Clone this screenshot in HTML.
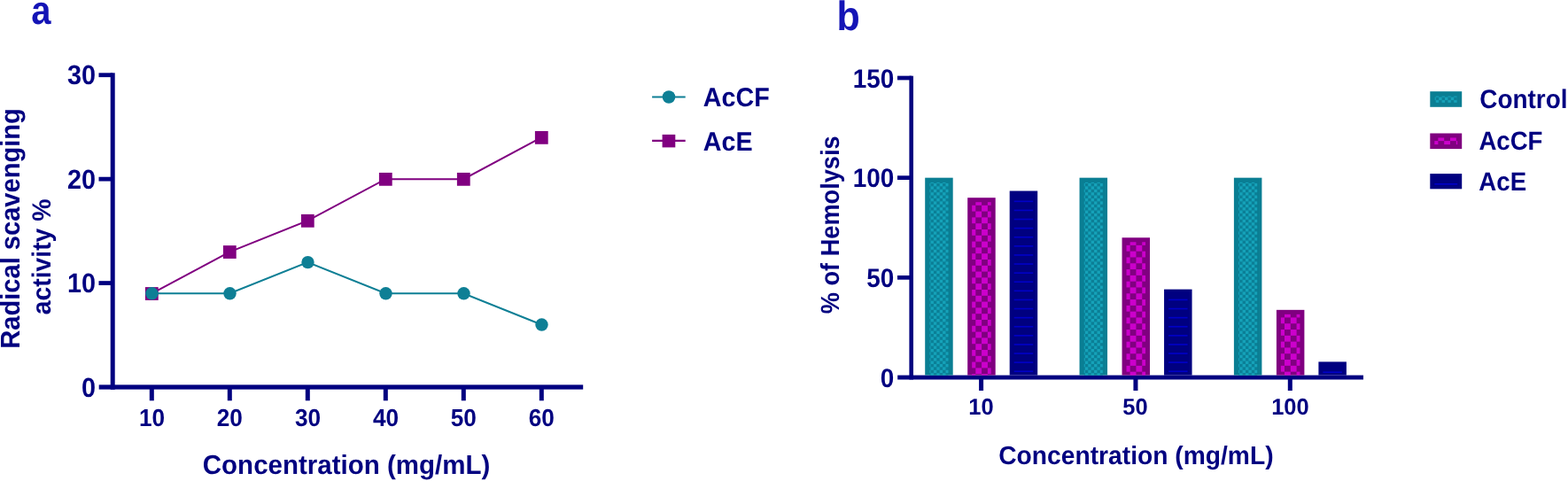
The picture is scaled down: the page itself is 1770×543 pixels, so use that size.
<!DOCTYPE html>
<html><head><meta charset="utf-8"><title>Figure</title>
<style>
html,body{margin:0;padding:0;background:#fff;}
body{width:1770px;height:543px;overflow:hidden;}
svg{display:block;}
svg text{font-family:'Liberation Sans',Arial,sans-serif;font-weight:bold;font-kerning:none;text-rendering:geometricPrecision;}
</style></head>
<body>
<svg width="1770" height="543" viewBox="0 0 1770 543">
<rect width="1770" height="543" fill="#fff"/>
<text transform="translate(35.2,26.9) scale(0.897,1.01)" font-size="44.5" fill="#1414b6">a</text>
<rect x="124.70" y="82.30" width="5.00" height="357.50" fill="#000080"/>
<rect x="111.70" y="434.40" width="546.50" height="5.20" fill="#000080"/>
<rect x="111.50" y="317.17" width="15.50" height="4.80" fill="#000080"/>
<rect x="111.50" y="199.74" width="15.50" height="4.80" fill="#000080"/>
<rect x="111.50" y="82.31" width="15.50" height="4.80" fill="#000080"/>
<rect x="168.80" y="437.00" width="5.00" height="15.30" fill="#000080"/>
<rect x="256.80" y="437.00" width="5.00" height="15.30" fill="#000080"/>
<rect x="344.80" y="437.00" width="5.00" height="15.30" fill="#000080"/>
<rect x="432.80" y="437.00" width="5.00" height="15.30" fill="#000080"/>
<rect x="520.80" y="437.00" width="5.00" height="15.30" fill="#000080"/>
<rect x="608.80" y="437.00" width="5.00" height="15.30" fill="#000080"/>
<text transform="translate(75.95,95.41) scale(1.0,1.07)" font-size="28.8" fill="#000080">30</text>
<text transform="translate(75.95,212.84) scale(1.0,1.07)" font-size="28.8" fill="#000080">20</text>
<text transform="translate(75.95,330.27) scale(1.0,1.07)" font-size="28.8" fill="#000080">10</text>
<text transform="translate(91.96,447.70) scale(1.0,1.07)" font-size="28.8" fill="#000080">0</text>
<text transform="translate(156.97,481.00) scale(1.0,1.05)" font-size="26.2" fill="#000080">10</text>
<text transform="translate(244.74,481.00) scale(1.0,1.05)" font-size="26.2" fill="#000080">20</text>
<text transform="translate(332.89,481.00) scale(1.0,1.05)" font-size="26.2" fill="#000080">30</text>
<text transform="translate(421.00,481.00) scale(1.0,1.05)" font-size="26.2" fill="#000080">40</text>
<text transform="translate(508.79,481.00) scale(1.0,1.05)" font-size="26.2" fill="#000080">50</text>
<text transform="translate(596.72,481.00) scale(1.0,1.05)" font-size="26.2" fill="#000080">60</text>
<text transform="translate(228.8,534.9) scale(1,1.03)" font-size="29.5" fill="#000080">Concentration (mg/mL)</text>
<text transform="translate(22.00,393.75) rotate(-90) scale(1,1.05)" font-size="29.1" fill="#000080">Radical scavenging</text>
<text transform="translate(57.20,355.13) rotate(-90) scale(1,1.05)" font-size="28.28" fill="#000080">activity %</text>
<polyline points="171.30,331.31 259.30,284.34 347.30,249.11 435.30,202.14 523.30,202.14 611.30,155.17" fill="none" stroke="#800080" stroke-width="2.0"/>
<rect x="163.90" y="324.11" width="14.80" height="14.80" fill="#800080"/>
<rect x="251.90" y="277.14" width="14.80" height="14.80" fill="#800080"/>
<rect x="339.90" y="241.91" width="14.80" height="14.80" fill="#800080"/>
<rect x="427.90" y="194.94" width="14.80" height="14.80" fill="#800080"/>
<rect x="515.90" y="194.94" width="14.80" height="14.80" fill="#800080"/>
<rect x="603.90" y="147.97" width="14.80" height="14.80" fill="#800080"/>
<polyline points="171.30,331.31 259.30,331.31 347.30,296.08 435.30,331.31 523.30,331.31 611.30,366.54" fill="none" stroke="#0e7f95" stroke-width="2.1"/>
<circle cx="171.50" cy="331.31" r="7.2" fill="#0e7f95"/>
<circle cx="259.50" cy="331.31" r="7.2" fill="#0e7f95"/>
<circle cx="347.50" cy="296.08" r="7.2" fill="#0e7f95"/>
<circle cx="435.50" cy="331.31" r="7.2" fill="#0e7f95"/>
<circle cx="523.50" cy="331.31" r="7.2" fill="#0e7f95"/>
<circle cx="611.50" cy="366.54" r="7.2" fill="#0e7f95"/>
<line x1="736.1" y1="109.5" x2="773.7" y2="109.5" stroke="#0e7f95" stroke-width="2.2"/>
<circle cx="755" cy="109.5" r="7.3" fill="#0e7f95"/>
<line x1="736.1" y1="158.8" x2="773.7" y2="158.8" stroke="#800080" stroke-width="2.2"/>
<rect x="747.60" y="151.90" width="14.70" height="14.50" fill="#800080"/>
<text transform="translate(793.85,119.90) scale(1.0,1.05)" font-size="28.7" fill="#000080">AcCF</text>
<text transform="translate(793.85,169.80) scale(1.0,1.05)" font-size="28.7" fill="#000080">AcE</text>
<text transform="translate(944.4,34.3) scale(0.96,1.04)" font-size="44.7" fill="#1414b6">b</text>
<rect x="1026.40" y="85.70" width="4.60" height="342.80" fill="#000080"/>
<rect x="1013.20" y="423.60" width="525.80" height="4.90" fill="#000080"/>
<rect x="1013.00" y="310.98" width="16.00" height="4.70" fill="#000080"/>
<rect x="1013.00" y="198.32" width="16.00" height="4.70" fill="#000080"/>
<rect x="1013.00" y="85.65" width="16.00" height="4.70" fill="#000080"/>
<rect x="1105.10" y="426.00" width="5.00" height="15.00" fill="#000080"/>
<rect x="1279.45" y="426.00" width="5.00" height="15.00" fill="#000080"/>
<rect x="1453.80" y="426.00" width="5.00" height="15.00" fill="#000080"/>
<text transform="translate(962.69,98.60) scale(1.0,1.07)" font-size="27.9" fill="#000080">150</text>
<text transform="translate(962.69,211.27) scale(1.0,1.07)" font-size="27.9" fill="#000080">100</text>
<text transform="translate(993.73,436.60) scale(1.0,1.07)" font-size="27.9" fill="#000080">0</text>
<text transform="translate(978.21,323.94) scale(1.0,1.07)" font-size="27.9" fill="#000080">50</text>
<text transform="translate(1093.36,468.10) scale(1.0,1.02)" font-size="25.5" fill="#000080">10</text>
<text transform="translate(1267.30,468.10) scale(1.0,1.02)" font-size="25.5" fill="#000080">50</text>
<text transform="translate(1435.15,468.10) scale(1.0,1.02)" font-size="25.5" fill="#000080">100</text>
<text transform="translate(1127.2,523.7) scale(1,1.03)" font-size="28.22" fill="#000080">Concentration (mg/mL)</text>
<text transform="translate(946.60,354.28) rotate(-90) scale(1,1.076)" font-size="27.2" fill="#000080">% of Hemolysis</text>
<rect x="1044.20" y="200.67" width="31.50" height="222.93" fill="#0a7e93"/>
<rect x="1049.40" y="205.87" width="21.10" height="217.73" fill="#0b7f96"/>
<rect x="1050.50" y="205.87" width="3.40" height="1.10" fill="#15a2b9"/>
<rect x="1057.30" y="205.87" width="3.40" height="1.10" fill="#15a2b9"/>
<rect x="1064.10" y="205.87" width="3.40" height="1.10" fill="#15a2b9"/>
<rect x="1049.40" y="206.97" width="1.10" height="3.40" fill="#15a2b9"/>
<rect x="1053.90" y="206.97" width="3.40" height="3.40" fill="#15a2b9"/>
<rect x="1060.70" y="206.97" width="3.40" height="3.40" fill="#15a2b9"/>
<rect x="1067.50" y="206.97" width="3.00" height="3.40" fill="#15a2b9"/>
<rect x="1050.50" y="210.37" width="3.40" height="3.40" fill="#15a2b9"/>
<rect x="1057.30" y="210.37" width="3.40" height="3.40" fill="#15a2b9"/>
<rect x="1064.10" y="210.37" width="3.40" height="3.40" fill="#15a2b9"/>
<rect x="1049.40" y="213.77" width="1.10" height="3.40" fill="#15a2b9"/>
<rect x="1053.90" y="213.77" width="3.40" height="3.40" fill="#15a2b9"/>
<rect x="1060.70" y="213.77" width="3.40" height="3.40" fill="#15a2b9"/>
<rect x="1067.50" y="213.77" width="3.00" height="3.40" fill="#15a2b9"/>
<rect x="1050.50" y="217.17" width="3.40" height="3.40" fill="#15a2b9"/>
<rect x="1057.30" y="217.17" width="3.40" height="3.40" fill="#15a2b9"/>
<rect x="1064.10" y="217.17" width="3.40" height="3.40" fill="#15a2b9"/>
<rect x="1049.40" y="220.57" width="1.10" height="3.40" fill="#15a2b9"/>
<rect x="1053.90" y="220.57" width="3.40" height="3.40" fill="#15a2b9"/>
<rect x="1060.70" y="220.57" width="3.40" height="3.40" fill="#15a2b9"/>
<rect x="1067.50" y="220.57" width="3.00" height="3.40" fill="#15a2b9"/>
<rect x="1050.50" y="223.97" width="3.40" height="3.40" fill="#15a2b9"/>
<rect x="1057.30" y="223.97" width="3.40" height="3.40" fill="#15a2b9"/>
<rect x="1064.10" y="223.97" width="3.40" height="3.40" fill="#15a2b9"/>
<rect x="1049.40" y="227.37" width="1.10" height="3.40" fill="#15a2b9"/>
<rect x="1053.90" y="227.37" width="3.40" height="3.40" fill="#15a2b9"/>
<rect x="1060.70" y="227.37" width="3.40" height="3.40" fill="#15a2b9"/>
<rect x="1067.50" y="227.37" width="3.00" height="3.40" fill="#15a2b9"/>
<rect x="1050.50" y="230.77" width="3.40" height="3.40" fill="#15a2b9"/>
<rect x="1057.30" y="230.77" width="3.40" height="3.40" fill="#15a2b9"/>
<rect x="1064.10" y="230.77" width="3.40" height="3.40" fill="#15a2b9"/>
<rect x="1049.40" y="234.17" width="1.10" height="3.40" fill="#15a2b9"/>
<rect x="1053.90" y="234.17" width="3.40" height="3.40" fill="#15a2b9"/>
<rect x="1060.70" y="234.17" width="3.40" height="3.40" fill="#15a2b9"/>
<rect x="1067.50" y="234.17" width="3.00" height="3.40" fill="#15a2b9"/>
<rect x="1050.50" y="237.57" width="3.40" height="3.40" fill="#15a2b9"/>
<rect x="1057.30" y="237.57" width="3.40" height="3.40" fill="#15a2b9"/>
<rect x="1064.10" y="237.57" width="3.40" height="3.40" fill="#15a2b9"/>
<rect x="1049.40" y="240.97" width="1.10" height="3.40" fill="#15a2b9"/>
<rect x="1053.90" y="240.97" width="3.40" height="3.40" fill="#15a2b9"/>
<rect x="1060.70" y="240.97" width="3.40" height="3.40" fill="#15a2b9"/>
<rect x="1067.50" y="240.97" width="3.00" height="3.40" fill="#15a2b9"/>
<rect x="1050.50" y="244.37" width="3.40" height="3.40" fill="#15a2b9"/>
<rect x="1057.30" y="244.37" width="3.40" height="3.40" fill="#15a2b9"/>
<rect x="1064.10" y="244.37" width="3.40" height="3.40" fill="#15a2b9"/>
<rect x="1049.40" y="247.77" width="1.10" height="3.40" fill="#15a2b9"/>
<rect x="1053.90" y="247.77" width="3.40" height="3.40" fill="#15a2b9"/>
<rect x="1060.70" y="247.77" width="3.40" height="3.40" fill="#15a2b9"/>
<rect x="1067.50" y="247.77" width="3.00" height="3.40" fill="#15a2b9"/>
<rect x="1050.50" y="251.17" width="3.40" height="3.40" fill="#15a2b9"/>
<rect x="1057.30" y="251.17" width="3.40" height="3.40" fill="#15a2b9"/>
<rect x="1064.10" y="251.17" width="3.40" height="3.40" fill="#15a2b9"/>
<rect x="1049.40" y="254.57" width="1.10" height="3.40" fill="#15a2b9"/>
<rect x="1053.90" y="254.57" width="3.40" height="3.40" fill="#15a2b9"/>
<rect x="1060.70" y="254.57" width="3.40" height="3.40" fill="#15a2b9"/>
<rect x="1067.50" y="254.57" width="3.00" height="3.40" fill="#15a2b9"/>
<rect x="1050.50" y="257.97" width="3.40" height="3.40" fill="#15a2b9"/>
<rect x="1057.30" y="257.97" width="3.40" height="3.40" fill="#15a2b9"/>
<rect x="1064.10" y="257.97" width="3.40" height="3.40" fill="#15a2b9"/>
<rect x="1049.40" y="261.37" width="1.10" height="3.40" fill="#15a2b9"/>
<rect x="1053.90" y="261.37" width="3.40" height="3.40" fill="#15a2b9"/>
<rect x="1060.70" y="261.37" width="3.40" height="3.40" fill="#15a2b9"/>
<rect x="1067.50" y="261.37" width="3.00" height="3.40" fill="#15a2b9"/>
<rect x="1050.50" y="264.77" width="3.40" height="3.40" fill="#15a2b9"/>
<rect x="1057.30" y="264.77" width="3.40" height="3.40" fill="#15a2b9"/>
<rect x="1064.10" y="264.77" width="3.40" height="3.40" fill="#15a2b9"/>
<rect x="1049.40" y="268.17" width="1.10" height="3.40" fill="#15a2b9"/>
<rect x="1053.90" y="268.17" width="3.40" height="3.40" fill="#15a2b9"/>
<rect x="1060.70" y="268.17" width="3.40" height="3.40" fill="#15a2b9"/>
<rect x="1067.50" y="268.17" width="3.00" height="3.40" fill="#15a2b9"/>
<rect x="1050.50" y="271.57" width="3.40" height="3.40" fill="#15a2b9"/>
<rect x="1057.30" y="271.57" width="3.40" height="3.40" fill="#15a2b9"/>
<rect x="1064.10" y="271.57" width="3.40" height="3.40" fill="#15a2b9"/>
<rect x="1049.40" y="274.97" width="1.10" height="3.40" fill="#15a2b9"/>
<rect x="1053.90" y="274.97" width="3.40" height="3.40" fill="#15a2b9"/>
<rect x="1060.70" y="274.97" width="3.40" height="3.40" fill="#15a2b9"/>
<rect x="1067.50" y="274.97" width="3.00" height="3.40" fill="#15a2b9"/>
<rect x="1050.50" y="278.37" width="3.40" height="3.40" fill="#15a2b9"/>
<rect x="1057.30" y="278.37" width="3.40" height="3.40" fill="#15a2b9"/>
<rect x="1064.10" y="278.37" width="3.40" height="3.40" fill="#15a2b9"/>
<rect x="1049.40" y="281.77" width="1.10" height="3.40" fill="#15a2b9"/>
<rect x="1053.90" y="281.77" width="3.40" height="3.40" fill="#15a2b9"/>
<rect x="1060.70" y="281.77" width="3.40" height="3.40" fill="#15a2b9"/>
<rect x="1067.50" y="281.77" width="3.00" height="3.40" fill="#15a2b9"/>
<rect x="1050.50" y="285.17" width="3.40" height="3.40" fill="#15a2b9"/>
<rect x="1057.30" y="285.17" width="3.40" height="3.40" fill="#15a2b9"/>
<rect x="1064.10" y="285.17" width="3.40" height="3.40" fill="#15a2b9"/>
<rect x="1049.40" y="288.57" width="1.10" height="3.40" fill="#15a2b9"/>
<rect x="1053.90" y="288.57" width="3.40" height="3.40" fill="#15a2b9"/>
<rect x="1060.70" y="288.57" width="3.40" height="3.40" fill="#15a2b9"/>
<rect x="1067.50" y="288.57" width="3.00" height="3.40" fill="#15a2b9"/>
<rect x="1050.50" y="291.97" width="3.40" height="3.40" fill="#15a2b9"/>
<rect x="1057.30" y="291.97" width="3.40" height="3.40" fill="#15a2b9"/>
<rect x="1064.10" y="291.97" width="3.40" height="3.40" fill="#15a2b9"/>
<rect x="1049.40" y="295.37" width="1.10" height="3.40" fill="#15a2b9"/>
<rect x="1053.90" y="295.37" width="3.40" height="3.40" fill="#15a2b9"/>
<rect x="1060.70" y="295.37" width="3.40" height="3.40" fill="#15a2b9"/>
<rect x="1067.50" y="295.37" width="3.00" height="3.40" fill="#15a2b9"/>
<rect x="1050.50" y="298.77" width="3.40" height="3.40" fill="#15a2b9"/>
<rect x="1057.30" y="298.77" width="3.40" height="3.40" fill="#15a2b9"/>
<rect x="1064.10" y="298.77" width="3.40" height="3.40" fill="#15a2b9"/>
<rect x="1049.40" y="302.17" width="1.10" height="3.40" fill="#15a2b9"/>
<rect x="1053.90" y="302.17" width="3.40" height="3.40" fill="#15a2b9"/>
<rect x="1060.70" y="302.17" width="3.40" height="3.40" fill="#15a2b9"/>
<rect x="1067.50" y="302.17" width="3.00" height="3.40" fill="#15a2b9"/>
<rect x="1050.50" y="305.57" width="3.40" height="3.40" fill="#15a2b9"/>
<rect x="1057.30" y="305.57" width="3.40" height="3.40" fill="#15a2b9"/>
<rect x="1064.10" y="305.57" width="3.40" height="3.40" fill="#15a2b9"/>
<rect x="1049.40" y="308.97" width="1.10" height="3.40" fill="#15a2b9"/>
<rect x="1053.90" y="308.97" width="3.40" height="3.40" fill="#15a2b9"/>
<rect x="1060.70" y="308.97" width="3.40" height="3.40" fill="#15a2b9"/>
<rect x="1067.50" y="308.97" width="3.00" height="3.40" fill="#15a2b9"/>
<rect x="1050.50" y="312.37" width="3.40" height="3.40" fill="#15a2b9"/>
<rect x="1057.30" y="312.37" width="3.40" height="3.40" fill="#15a2b9"/>
<rect x="1064.10" y="312.37" width="3.40" height="3.40" fill="#15a2b9"/>
<rect x="1049.40" y="315.77" width="1.10" height="3.40" fill="#15a2b9"/>
<rect x="1053.90" y="315.77" width="3.40" height="3.40" fill="#15a2b9"/>
<rect x="1060.70" y="315.77" width="3.40" height="3.40" fill="#15a2b9"/>
<rect x="1067.50" y="315.77" width="3.00" height="3.40" fill="#15a2b9"/>
<rect x="1050.50" y="319.17" width="3.40" height="3.40" fill="#15a2b9"/>
<rect x="1057.30" y="319.17" width="3.40" height="3.40" fill="#15a2b9"/>
<rect x="1064.10" y="319.17" width="3.40" height="3.40" fill="#15a2b9"/>
<rect x="1049.40" y="322.57" width="1.10" height="3.40" fill="#15a2b9"/>
<rect x="1053.90" y="322.57" width="3.40" height="3.40" fill="#15a2b9"/>
<rect x="1060.70" y="322.57" width="3.40" height="3.40" fill="#15a2b9"/>
<rect x="1067.50" y="322.57" width="3.00" height="3.40" fill="#15a2b9"/>
<rect x="1050.50" y="325.97" width="3.40" height="3.40" fill="#15a2b9"/>
<rect x="1057.30" y="325.97" width="3.40" height="3.40" fill="#15a2b9"/>
<rect x="1064.10" y="325.97" width="3.40" height="3.40" fill="#15a2b9"/>
<rect x="1049.40" y="329.37" width="1.10" height="3.40" fill="#15a2b9"/>
<rect x="1053.90" y="329.37" width="3.40" height="3.40" fill="#15a2b9"/>
<rect x="1060.70" y="329.37" width="3.40" height="3.40" fill="#15a2b9"/>
<rect x="1067.50" y="329.37" width="3.00" height="3.40" fill="#15a2b9"/>
<rect x="1050.50" y="332.77" width="3.40" height="3.40" fill="#15a2b9"/>
<rect x="1057.30" y="332.77" width="3.40" height="3.40" fill="#15a2b9"/>
<rect x="1064.10" y="332.77" width="3.40" height="3.40" fill="#15a2b9"/>
<rect x="1049.40" y="336.17" width="1.10" height="3.40" fill="#15a2b9"/>
<rect x="1053.90" y="336.17" width="3.40" height="3.40" fill="#15a2b9"/>
<rect x="1060.70" y="336.17" width="3.40" height="3.40" fill="#15a2b9"/>
<rect x="1067.50" y="336.17" width="3.00" height="3.40" fill="#15a2b9"/>
<rect x="1050.50" y="339.57" width="3.40" height="3.40" fill="#15a2b9"/>
<rect x="1057.30" y="339.57" width="3.40" height="3.40" fill="#15a2b9"/>
<rect x="1064.10" y="339.57" width="3.40" height="3.40" fill="#15a2b9"/>
<rect x="1049.40" y="342.97" width="1.10" height="3.40" fill="#15a2b9"/>
<rect x="1053.90" y="342.97" width="3.40" height="3.40" fill="#15a2b9"/>
<rect x="1060.70" y="342.97" width="3.40" height="3.40" fill="#15a2b9"/>
<rect x="1067.50" y="342.97" width="3.00" height="3.40" fill="#15a2b9"/>
<rect x="1050.50" y="346.37" width="3.40" height="3.40" fill="#15a2b9"/>
<rect x="1057.30" y="346.37" width="3.40" height="3.40" fill="#15a2b9"/>
<rect x="1064.10" y="346.37" width="3.40" height="3.40" fill="#15a2b9"/>
<rect x="1049.40" y="349.77" width="1.10" height="3.40" fill="#15a2b9"/>
<rect x="1053.90" y="349.77" width="3.40" height="3.40" fill="#15a2b9"/>
<rect x="1060.70" y="349.77" width="3.40" height="3.40" fill="#15a2b9"/>
<rect x="1067.50" y="349.77" width="3.00" height="3.40" fill="#15a2b9"/>
<rect x="1050.50" y="353.17" width="3.40" height="3.40" fill="#15a2b9"/>
<rect x="1057.30" y="353.17" width="3.40" height="3.40" fill="#15a2b9"/>
<rect x="1064.10" y="353.17" width="3.40" height="3.40" fill="#15a2b9"/>
<rect x="1049.40" y="356.57" width="1.10" height="3.40" fill="#15a2b9"/>
<rect x="1053.90" y="356.57" width="3.40" height="3.40" fill="#15a2b9"/>
<rect x="1060.70" y="356.57" width="3.40" height="3.40" fill="#15a2b9"/>
<rect x="1067.50" y="356.57" width="3.00" height="3.40" fill="#15a2b9"/>
<rect x="1050.50" y="359.97" width="3.40" height="3.40" fill="#15a2b9"/>
<rect x="1057.30" y="359.97" width="3.40" height="3.40" fill="#15a2b9"/>
<rect x="1064.10" y="359.97" width="3.40" height="3.40" fill="#15a2b9"/>
<rect x="1049.40" y="363.37" width="1.10" height="3.40" fill="#15a2b9"/>
<rect x="1053.90" y="363.37" width="3.40" height="3.40" fill="#15a2b9"/>
<rect x="1060.70" y="363.37" width="3.40" height="3.40" fill="#15a2b9"/>
<rect x="1067.50" y="363.37" width="3.00" height="3.40" fill="#15a2b9"/>
<rect x="1050.50" y="366.77" width="3.40" height="3.40" fill="#15a2b9"/>
<rect x="1057.30" y="366.77" width="3.40" height="3.40" fill="#15a2b9"/>
<rect x="1064.10" y="366.77" width="3.40" height="3.40" fill="#15a2b9"/>
<rect x="1049.40" y="370.17" width="1.10" height="3.40" fill="#15a2b9"/>
<rect x="1053.90" y="370.17" width="3.40" height="3.40" fill="#15a2b9"/>
<rect x="1060.70" y="370.17" width="3.40" height="3.40" fill="#15a2b9"/>
<rect x="1067.50" y="370.17" width="3.00" height="3.40" fill="#15a2b9"/>
<rect x="1050.50" y="373.57" width="3.40" height="3.40" fill="#15a2b9"/>
<rect x="1057.30" y="373.57" width="3.40" height="3.40" fill="#15a2b9"/>
<rect x="1064.10" y="373.57" width="3.40" height="3.40" fill="#15a2b9"/>
<rect x="1049.40" y="376.97" width="1.10" height="3.40" fill="#15a2b9"/>
<rect x="1053.90" y="376.97" width="3.40" height="3.40" fill="#15a2b9"/>
<rect x="1060.70" y="376.97" width="3.40" height="3.40" fill="#15a2b9"/>
<rect x="1067.50" y="376.97" width="3.00" height="3.40" fill="#15a2b9"/>
<rect x="1050.50" y="380.37" width="3.40" height="3.40" fill="#15a2b9"/>
<rect x="1057.30" y="380.37" width="3.40" height="3.40" fill="#15a2b9"/>
<rect x="1064.10" y="380.37" width="3.40" height="3.40" fill="#15a2b9"/>
<rect x="1049.40" y="383.77" width="1.10" height="3.40" fill="#15a2b9"/>
<rect x="1053.90" y="383.77" width="3.40" height="3.40" fill="#15a2b9"/>
<rect x="1060.70" y="383.77" width="3.40" height="3.40" fill="#15a2b9"/>
<rect x="1067.50" y="383.77" width="3.00" height="3.40" fill="#15a2b9"/>
<rect x="1050.50" y="387.17" width="3.40" height="3.40" fill="#15a2b9"/>
<rect x="1057.30" y="387.17" width="3.40" height="3.40" fill="#15a2b9"/>
<rect x="1064.10" y="387.17" width="3.40" height="3.40" fill="#15a2b9"/>
<rect x="1049.40" y="390.57" width="1.10" height="3.40" fill="#15a2b9"/>
<rect x="1053.90" y="390.57" width="3.40" height="3.40" fill="#15a2b9"/>
<rect x="1060.70" y="390.57" width="3.40" height="3.40" fill="#15a2b9"/>
<rect x="1067.50" y="390.57" width="3.00" height="3.40" fill="#15a2b9"/>
<rect x="1050.50" y="393.97" width="3.40" height="3.40" fill="#15a2b9"/>
<rect x="1057.30" y="393.97" width="3.40" height="3.40" fill="#15a2b9"/>
<rect x="1064.10" y="393.97" width="3.40" height="3.40" fill="#15a2b9"/>
<rect x="1049.40" y="397.37" width="1.10" height="3.40" fill="#15a2b9"/>
<rect x="1053.90" y="397.37" width="3.40" height="3.40" fill="#15a2b9"/>
<rect x="1060.70" y="397.37" width="3.40" height="3.40" fill="#15a2b9"/>
<rect x="1067.50" y="397.37" width="3.00" height="3.40" fill="#15a2b9"/>
<rect x="1050.50" y="400.77" width="3.40" height="3.40" fill="#15a2b9"/>
<rect x="1057.30" y="400.77" width="3.40" height="3.40" fill="#15a2b9"/>
<rect x="1064.10" y="400.77" width="3.40" height="3.40" fill="#15a2b9"/>
<rect x="1049.40" y="404.17" width="1.10" height="3.40" fill="#15a2b9"/>
<rect x="1053.90" y="404.17" width="3.40" height="3.40" fill="#15a2b9"/>
<rect x="1060.70" y="404.17" width="3.40" height="3.40" fill="#15a2b9"/>
<rect x="1067.50" y="404.17" width="3.00" height="3.40" fill="#15a2b9"/>
<rect x="1050.50" y="407.57" width="3.40" height="3.40" fill="#15a2b9"/>
<rect x="1057.30" y="407.57" width="3.40" height="3.40" fill="#15a2b9"/>
<rect x="1064.10" y="407.57" width="3.40" height="3.40" fill="#15a2b9"/>
<rect x="1049.40" y="410.97" width="1.10" height="3.40" fill="#15a2b9"/>
<rect x="1053.90" y="410.97" width="3.40" height="3.40" fill="#15a2b9"/>
<rect x="1060.70" y="410.97" width="3.40" height="3.40" fill="#15a2b9"/>
<rect x="1067.50" y="410.97" width="3.00" height="3.40" fill="#15a2b9"/>
<rect x="1050.50" y="414.37" width="3.40" height="3.40" fill="#15a2b9"/>
<rect x="1057.30" y="414.37" width="3.40" height="3.40" fill="#15a2b9"/>
<rect x="1064.10" y="414.37" width="3.40" height="3.40" fill="#15a2b9"/>
<rect x="1049.40" y="417.77" width="1.10" height="3.40" fill="#15a2b9"/>
<rect x="1053.90" y="417.77" width="3.40" height="3.40" fill="#15a2b9"/>
<rect x="1060.70" y="417.77" width="3.40" height="3.40" fill="#15a2b9"/>
<rect x="1067.50" y="417.77" width="3.00" height="3.40" fill="#15a2b9"/>
<rect x="1050.50" y="421.17" width="3.40" height="2.43" fill="#15a2b9"/>
<rect x="1057.30" y="421.17" width="3.40" height="2.43" fill="#15a2b9"/>
<rect x="1064.10" y="421.17" width="3.40" height="2.43" fill="#15a2b9"/>
<rect x="1092.20" y="223.20" width="31.50" height="200.40" fill="#800080"/>
<rect x="1101.30" y="228.20" width="6.80" height="3.60" fill="#cc00cc"/>
<rect x="1114.90" y="228.20" width="3.80" height="3.60" fill="#cc00cc"/>
<rect x="1097.20" y="231.80" width="4.10" height="6.80" fill="#cc00cc"/>
<rect x="1108.10" y="231.80" width="6.80" height="6.80" fill="#cc00cc"/>
<rect x="1101.30" y="238.60" width="6.80" height="6.80" fill="#cc00cc"/>
<rect x="1114.90" y="238.60" width="3.80" height="6.80" fill="#cc00cc"/>
<rect x="1097.20" y="245.40" width="4.10" height="6.80" fill="#cc00cc"/>
<rect x="1108.10" y="245.40" width="6.80" height="6.80" fill="#cc00cc"/>
<rect x="1101.30" y="252.20" width="6.80" height="6.80" fill="#cc00cc"/>
<rect x="1114.90" y="252.20" width="3.80" height="6.80" fill="#cc00cc"/>
<rect x="1097.20" y="259.00" width="4.10" height="6.80" fill="#cc00cc"/>
<rect x="1108.10" y="259.00" width="6.80" height="6.80" fill="#cc00cc"/>
<rect x="1101.30" y="265.80" width="6.80" height="6.80" fill="#cc00cc"/>
<rect x="1114.90" y="265.80" width="3.80" height="6.80" fill="#cc00cc"/>
<rect x="1097.20" y="272.60" width="4.10" height="6.80" fill="#cc00cc"/>
<rect x="1108.10" y="272.60" width="6.80" height="6.80" fill="#cc00cc"/>
<rect x="1101.30" y="279.40" width="6.80" height="6.80" fill="#cc00cc"/>
<rect x="1114.90" y="279.40" width="3.80" height="6.80" fill="#cc00cc"/>
<rect x="1097.20" y="286.20" width="4.10" height="6.80" fill="#cc00cc"/>
<rect x="1108.10" y="286.20" width="6.80" height="6.80" fill="#cc00cc"/>
<rect x="1101.30" y="293.00" width="6.80" height="6.80" fill="#cc00cc"/>
<rect x="1114.90" y="293.00" width="3.80" height="6.80" fill="#cc00cc"/>
<rect x="1097.20" y="299.80" width="4.10" height="6.80" fill="#cc00cc"/>
<rect x="1108.10" y="299.80" width="6.80" height="6.80" fill="#cc00cc"/>
<rect x="1101.30" y="306.60" width="6.80" height="6.80" fill="#cc00cc"/>
<rect x="1114.90" y="306.60" width="3.80" height="6.80" fill="#cc00cc"/>
<rect x="1097.20" y="313.40" width="4.10" height="6.80" fill="#cc00cc"/>
<rect x="1108.10" y="313.40" width="6.80" height="6.80" fill="#cc00cc"/>
<rect x="1101.30" y="320.20" width="6.80" height="6.80" fill="#cc00cc"/>
<rect x="1114.90" y="320.20" width="3.80" height="6.80" fill="#cc00cc"/>
<rect x="1097.20" y="327.00" width="4.10" height="6.80" fill="#cc00cc"/>
<rect x="1108.10" y="327.00" width="6.80" height="6.80" fill="#cc00cc"/>
<rect x="1101.30" y="333.80" width="6.80" height="6.80" fill="#cc00cc"/>
<rect x="1114.90" y="333.80" width="3.80" height="6.80" fill="#cc00cc"/>
<rect x="1097.20" y="340.60" width="4.10" height="6.80" fill="#cc00cc"/>
<rect x="1108.10" y="340.60" width="6.80" height="6.80" fill="#cc00cc"/>
<rect x="1101.30" y="347.40" width="6.80" height="6.80" fill="#cc00cc"/>
<rect x="1114.90" y="347.40" width="3.80" height="6.80" fill="#cc00cc"/>
<rect x="1097.20" y="354.20" width="4.10" height="6.80" fill="#cc00cc"/>
<rect x="1108.10" y="354.20" width="6.80" height="6.80" fill="#cc00cc"/>
<rect x="1101.30" y="361.00" width="6.80" height="6.80" fill="#cc00cc"/>
<rect x="1114.90" y="361.00" width="3.80" height="6.80" fill="#cc00cc"/>
<rect x="1097.20" y="367.80" width="4.10" height="6.80" fill="#cc00cc"/>
<rect x="1108.10" y="367.80" width="6.80" height="6.80" fill="#cc00cc"/>
<rect x="1101.30" y="374.60" width="6.80" height="6.80" fill="#cc00cc"/>
<rect x="1114.90" y="374.60" width="3.80" height="6.80" fill="#cc00cc"/>
<rect x="1097.20" y="381.40" width="4.10" height="6.80" fill="#cc00cc"/>
<rect x="1108.10" y="381.40" width="6.80" height="6.80" fill="#cc00cc"/>
<rect x="1101.30" y="388.20" width="6.80" height="6.80" fill="#cc00cc"/>
<rect x="1114.90" y="388.20" width="3.80" height="6.80" fill="#cc00cc"/>
<rect x="1097.20" y="395.00" width="4.10" height="6.80" fill="#cc00cc"/>
<rect x="1108.10" y="395.00" width="6.80" height="6.80" fill="#cc00cc"/>
<rect x="1101.30" y="401.80" width="6.80" height="6.80" fill="#cc00cc"/>
<rect x="1114.90" y="401.80" width="3.80" height="6.80" fill="#cc00cc"/>
<rect x="1097.20" y="408.60" width="4.10" height="6.80" fill="#cc00cc"/>
<rect x="1108.10" y="408.60" width="6.80" height="6.80" fill="#cc00cc"/>
<rect x="1101.30" y="415.40" width="6.80" height="6.80" fill="#cc00cc"/>
<rect x="1114.90" y="415.40" width="3.80" height="6.80" fill="#cc00cc"/>
<rect x="1097.20" y="422.20" width="4.10" height="1.40" fill="#cc00cc"/>
<rect x="1108.10" y="422.20" width="6.80" height="1.40" fill="#cc00cc"/>
<rect x="1139.70" y="215.54" width="31.50" height="208.06" fill="#000080"/>
<rect x="1144.70" y="226.54" width="21.50" height="1.60" fill="#0000c8"/>
<rect x="1144.70" y="236.64" width="21.50" height="1.60" fill="#0000c8"/>
<rect x="1144.70" y="246.74" width="21.50" height="1.60" fill="#0000c8"/>
<rect x="1144.70" y="256.84" width="21.50" height="1.60" fill="#0000c8"/>
<rect x="1144.70" y="266.94" width="21.50" height="1.60" fill="#0000c8"/>
<rect x="1144.70" y="277.04" width="21.50" height="1.60" fill="#0000c8"/>
<rect x="1144.70" y="287.14" width="21.50" height="1.60" fill="#0000c8"/>
<rect x="1144.70" y="297.24" width="21.50" height="1.60" fill="#0000c8"/>
<rect x="1144.70" y="307.34" width="21.50" height="1.60" fill="#0000c8"/>
<rect x="1144.70" y="317.44" width="21.50" height="1.60" fill="#0000c8"/>
<rect x="1144.70" y="327.54" width="21.50" height="1.60" fill="#0000c8"/>
<rect x="1144.70" y="337.64" width="21.50" height="1.60" fill="#0000c8"/>
<rect x="1144.70" y="347.74" width="21.50" height="1.60" fill="#0000c8"/>
<rect x="1144.70" y="357.84" width="21.50" height="1.60" fill="#0000c8"/>
<rect x="1144.70" y="367.94" width="21.50" height="1.60" fill="#0000c8"/>
<rect x="1144.70" y="378.04" width="21.50" height="1.60" fill="#0000c8"/>
<rect x="1144.70" y="388.14" width="21.50" height="1.60" fill="#0000c8"/>
<rect x="1144.70" y="398.24" width="21.50" height="1.60" fill="#0000c8"/>
<rect x="1144.70" y="408.34" width="21.50" height="1.60" fill="#0000c8"/>
<rect x="1144.70" y="418.44" width="21.50" height="1.60" fill="#0000c8"/>
<rect x="1218.55" y="200.67" width="31.50" height="222.93" fill="#0a7e93"/>
<rect x="1223.75" y="205.87" width="21.10" height="217.73" fill="#0b7f96"/>
<rect x="1224.85" y="205.87" width="3.40" height="1.10" fill="#15a2b9"/>
<rect x="1231.65" y="205.87" width="3.40" height="1.10" fill="#15a2b9"/>
<rect x="1238.45" y="205.87" width="3.40" height="1.10" fill="#15a2b9"/>
<rect x="1223.75" y="206.97" width="1.10" height="3.40" fill="#15a2b9"/>
<rect x="1228.25" y="206.97" width="3.40" height="3.40" fill="#15a2b9"/>
<rect x="1235.05" y="206.97" width="3.40" height="3.40" fill="#15a2b9"/>
<rect x="1241.85" y="206.97" width="3.00" height="3.40" fill="#15a2b9"/>
<rect x="1224.85" y="210.37" width="3.40" height="3.40" fill="#15a2b9"/>
<rect x="1231.65" y="210.37" width="3.40" height="3.40" fill="#15a2b9"/>
<rect x="1238.45" y="210.37" width="3.40" height="3.40" fill="#15a2b9"/>
<rect x="1223.75" y="213.77" width="1.10" height="3.40" fill="#15a2b9"/>
<rect x="1228.25" y="213.77" width="3.40" height="3.40" fill="#15a2b9"/>
<rect x="1235.05" y="213.77" width="3.40" height="3.40" fill="#15a2b9"/>
<rect x="1241.85" y="213.77" width="3.00" height="3.40" fill="#15a2b9"/>
<rect x="1224.85" y="217.17" width="3.40" height="3.40" fill="#15a2b9"/>
<rect x="1231.65" y="217.17" width="3.40" height="3.40" fill="#15a2b9"/>
<rect x="1238.45" y="217.17" width="3.40" height="3.40" fill="#15a2b9"/>
<rect x="1223.75" y="220.57" width="1.10" height="3.40" fill="#15a2b9"/>
<rect x="1228.25" y="220.57" width="3.40" height="3.40" fill="#15a2b9"/>
<rect x="1235.05" y="220.57" width="3.40" height="3.40" fill="#15a2b9"/>
<rect x="1241.85" y="220.57" width="3.00" height="3.40" fill="#15a2b9"/>
<rect x="1224.85" y="223.97" width="3.40" height="3.40" fill="#15a2b9"/>
<rect x="1231.65" y="223.97" width="3.40" height="3.40" fill="#15a2b9"/>
<rect x="1238.45" y="223.97" width="3.40" height="3.40" fill="#15a2b9"/>
<rect x="1223.75" y="227.37" width="1.10" height="3.40" fill="#15a2b9"/>
<rect x="1228.25" y="227.37" width="3.40" height="3.40" fill="#15a2b9"/>
<rect x="1235.05" y="227.37" width="3.40" height="3.40" fill="#15a2b9"/>
<rect x="1241.85" y="227.37" width="3.00" height="3.40" fill="#15a2b9"/>
<rect x="1224.85" y="230.77" width="3.40" height="3.40" fill="#15a2b9"/>
<rect x="1231.65" y="230.77" width="3.40" height="3.40" fill="#15a2b9"/>
<rect x="1238.45" y="230.77" width="3.40" height="3.40" fill="#15a2b9"/>
<rect x="1223.75" y="234.17" width="1.10" height="3.40" fill="#15a2b9"/>
<rect x="1228.25" y="234.17" width="3.40" height="3.40" fill="#15a2b9"/>
<rect x="1235.05" y="234.17" width="3.40" height="3.40" fill="#15a2b9"/>
<rect x="1241.85" y="234.17" width="3.00" height="3.40" fill="#15a2b9"/>
<rect x="1224.85" y="237.57" width="3.40" height="3.40" fill="#15a2b9"/>
<rect x="1231.65" y="237.57" width="3.40" height="3.40" fill="#15a2b9"/>
<rect x="1238.45" y="237.57" width="3.40" height="3.40" fill="#15a2b9"/>
<rect x="1223.75" y="240.97" width="1.10" height="3.40" fill="#15a2b9"/>
<rect x="1228.25" y="240.97" width="3.40" height="3.40" fill="#15a2b9"/>
<rect x="1235.05" y="240.97" width="3.40" height="3.40" fill="#15a2b9"/>
<rect x="1241.85" y="240.97" width="3.00" height="3.40" fill="#15a2b9"/>
<rect x="1224.85" y="244.37" width="3.40" height="3.40" fill="#15a2b9"/>
<rect x="1231.65" y="244.37" width="3.40" height="3.40" fill="#15a2b9"/>
<rect x="1238.45" y="244.37" width="3.40" height="3.40" fill="#15a2b9"/>
<rect x="1223.75" y="247.77" width="1.10" height="3.40" fill="#15a2b9"/>
<rect x="1228.25" y="247.77" width="3.40" height="3.40" fill="#15a2b9"/>
<rect x="1235.05" y="247.77" width="3.40" height="3.40" fill="#15a2b9"/>
<rect x="1241.85" y="247.77" width="3.00" height="3.40" fill="#15a2b9"/>
<rect x="1224.85" y="251.17" width="3.40" height="3.40" fill="#15a2b9"/>
<rect x="1231.65" y="251.17" width="3.40" height="3.40" fill="#15a2b9"/>
<rect x="1238.45" y="251.17" width="3.40" height="3.40" fill="#15a2b9"/>
<rect x="1223.75" y="254.57" width="1.10" height="3.40" fill="#15a2b9"/>
<rect x="1228.25" y="254.57" width="3.40" height="3.40" fill="#15a2b9"/>
<rect x="1235.05" y="254.57" width="3.40" height="3.40" fill="#15a2b9"/>
<rect x="1241.85" y="254.57" width="3.00" height="3.40" fill="#15a2b9"/>
<rect x="1224.85" y="257.97" width="3.40" height="3.40" fill="#15a2b9"/>
<rect x="1231.65" y="257.97" width="3.40" height="3.40" fill="#15a2b9"/>
<rect x="1238.45" y="257.97" width="3.40" height="3.40" fill="#15a2b9"/>
<rect x="1223.75" y="261.37" width="1.10" height="3.40" fill="#15a2b9"/>
<rect x="1228.25" y="261.37" width="3.40" height="3.40" fill="#15a2b9"/>
<rect x="1235.05" y="261.37" width="3.40" height="3.40" fill="#15a2b9"/>
<rect x="1241.85" y="261.37" width="3.00" height="3.40" fill="#15a2b9"/>
<rect x="1224.85" y="264.77" width="3.40" height="3.40" fill="#15a2b9"/>
<rect x="1231.65" y="264.77" width="3.40" height="3.40" fill="#15a2b9"/>
<rect x="1238.45" y="264.77" width="3.40" height="3.40" fill="#15a2b9"/>
<rect x="1223.75" y="268.17" width="1.10" height="3.40" fill="#15a2b9"/>
<rect x="1228.25" y="268.17" width="3.40" height="3.40" fill="#15a2b9"/>
<rect x="1235.05" y="268.17" width="3.40" height="3.40" fill="#15a2b9"/>
<rect x="1241.85" y="268.17" width="3.00" height="3.40" fill="#15a2b9"/>
<rect x="1224.85" y="271.57" width="3.40" height="3.40" fill="#15a2b9"/>
<rect x="1231.65" y="271.57" width="3.40" height="3.40" fill="#15a2b9"/>
<rect x="1238.45" y="271.57" width="3.40" height="3.40" fill="#15a2b9"/>
<rect x="1223.75" y="274.97" width="1.10" height="3.40" fill="#15a2b9"/>
<rect x="1228.25" y="274.97" width="3.40" height="3.40" fill="#15a2b9"/>
<rect x="1235.05" y="274.97" width="3.40" height="3.40" fill="#15a2b9"/>
<rect x="1241.85" y="274.97" width="3.00" height="3.40" fill="#15a2b9"/>
<rect x="1224.85" y="278.37" width="3.40" height="3.40" fill="#15a2b9"/>
<rect x="1231.65" y="278.37" width="3.40" height="3.40" fill="#15a2b9"/>
<rect x="1238.45" y="278.37" width="3.40" height="3.40" fill="#15a2b9"/>
<rect x="1223.75" y="281.77" width="1.10" height="3.40" fill="#15a2b9"/>
<rect x="1228.25" y="281.77" width="3.40" height="3.40" fill="#15a2b9"/>
<rect x="1235.05" y="281.77" width="3.40" height="3.40" fill="#15a2b9"/>
<rect x="1241.85" y="281.77" width="3.00" height="3.40" fill="#15a2b9"/>
<rect x="1224.85" y="285.17" width="3.40" height="3.40" fill="#15a2b9"/>
<rect x="1231.65" y="285.17" width="3.40" height="3.40" fill="#15a2b9"/>
<rect x="1238.45" y="285.17" width="3.40" height="3.40" fill="#15a2b9"/>
<rect x="1223.75" y="288.57" width="1.10" height="3.40" fill="#15a2b9"/>
<rect x="1228.25" y="288.57" width="3.40" height="3.40" fill="#15a2b9"/>
<rect x="1235.05" y="288.57" width="3.40" height="3.40" fill="#15a2b9"/>
<rect x="1241.85" y="288.57" width="3.00" height="3.40" fill="#15a2b9"/>
<rect x="1224.85" y="291.97" width="3.40" height="3.40" fill="#15a2b9"/>
<rect x="1231.65" y="291.97" width="3.40" height="3.40" fill="#15a2b9"/>
<rect x="1238.45" y="291.97" width="3.40" height="3.40" fill="#15a2b9"/>
<rect x="1223.75" y="295.37" width="1.10" height="3.40" fill="#15a2b9"/>
<rect x="1228.25" y="295.37" width="3.40" height="3.40" fill="#15a2b9"/>
<rect x="1235.05" y="295.37" width="3.40" height="3.40" fill="#15a2b9"/>
<rect x="1241.85" y="295.37" width="3.00" height="3.40" fill="#15a2b9"/>
<rect x="1224.85" y="298.77" width="3.40" height="3.40" fill="#15a2b9"/>
<rect x="1231.65" y="298.77" width="3.40" height="3.40" fill="#15a2b9"/>
<rect x="1238.45" y="298.77" width="3.40" height="3.40" fill="#15a2b9"/>
<rect x="1223.75" y="302.17" width="1.10" height="3.40" fill="#15a2b9"/>
<rect x="1228.25" y="302.17" width="3.40" height="3.40" fill="#15a2b9"/>
<rect x="1235.05" y="302.17" width="3.40" height="3.40" fill="#15a2b9"/>
<rect x="1241.85" y="302.17" width="3.00" height="3.40" fill="#15a2b9"/>
<rect x="1224.85" y="305.57" width="3.40" height="3.40" fill="#15a2b9"/>
<rect x="1231.65" y="305.57" width="3.40" height="3.40" fill="#15a2b9"/>
<rect x="1238.45" y="305.57" width="3.40" height="3.40" fill="#15a2b9"/>
<rect x="1223.75" y="308.97" width="1.10" height="3.40" fill="#15a2b9"/>
<rect x="1228.25" y="308.97" width="3.40" height="3.40" fill="#15a2b9"/>
<rect x="1235.05" y="308.97" width="3.40" height="3.40" fill="#15a2b9"/>
<rect x="1241.85" y="308.97" width="3.00" height="3.40" fill="#15a2b9"/>
<rect x="1224.85" y="312.37" width="3.40" height="3.40" fill="#15a2b9"/>
<rect x="1231.65" y="312.37" width="3.40" height="3.40" fill="#15a2b9"/>
<rect x="1238.45" y="312.37" width="3.40" height="3.40" fill="#15a2b9"/>
<rect x="1223.75" y="315.77" width="1.10" height="3.40" fill="#15a2b9"/>
<rect x="1228.25" y="315.77" width="3.40" height="3.40" fill="#15a2b9"/>
<rect x="1235.05" y="315.77" width="3.40" height="3.40" fill="#15a2b9"/>
<rect x="1241.85" y="315.77" width="3.00" height="3.40" fill="#15a2b9"/>
<rect x="1224.85" y="319.17" width="3.40" height="3.40" fill="#15a2b9"/>
<rect x="1231.65" y="319.17" width="3.40" height="3.40" fill="#15a2b9"/>
<rect x="1238.45" y="319.17" width="3.40" height="3.40" fill="#15a2b9"/>
<rect x="1223.75" y="322.57" width="1.10" height="3.40" fill="#15a2b9"/>
<rect x="1228.25" y="322.57" width="3.40" height="3.40" fill="#15a2b9"/>
<rect x="1235.05" y="322.57" width="3.40" height="3.40" fill="#15a2b9"/>
<rect x="1241.85" y="322.57" width="3.00" height="3.40" fill="#15a2b9"/>
<rect x="1224.85" y="325.97" width="3.40" height="3.40" fill="#15a2b9"/>
<rect x="1231.65" y="325.97" width="3.40" height="3.40" fill="#15a2b9"/>
<rect x="1238.45" y="325.97" width="3.40" height="3.40" fill="#15a2b9"/>
<rect x="1223.75" y="329.37" width="1.10" height="3.40" fill="#15a2b9"/>
<rect x="1228.25" y="329.37" width="3.40" height="3.40" fill="#15a2b9"/>
<rect x="1235.05" y="329.37" width="3.40" height="3.40" fill="#15a2b9"/>
<rect x="1241.85" y="329.37" width="3.00" height="3.40" fill="#15a2b9"/>
<rect x="1224.85" y="332.77" width="3.40" height="3.40" fill="#15a2b9"/>
<rect x="1231.65" y="332.77" width="3.40" height="3.40" fill="#15a2b9"/>
<rect x="1238.45" y="332.77" width="3.40" height="3.40" fill="#15a2b9"/>
<rect x="1223.75" y="336.17" width="1.10" height="3.40" fill="#15a2b9"/>
<rect x="1228.25" y="336.17" width="3.40" height="3.40" fill="#15a2b9"/>
<rect x="1235.05" y="336.17" width="3.40" height="3.40" fill="#15a2b9"/>
<rect x="1241.85" y="336.17" width="3.00" height="3.40" fill="#15a2b9"/>
<rect x="1224.85" y="339.57" width="3.40" height="3.40" fill="#15a2b9"/>
<rect x="1231.65" y="339.57" width="3.40" height="3.40" fill="#15a2b9"/>
<rect x="1238.45" y="339.57" width="3.40" height="3.40" fill="#15a2b9"/>
<rect x="1223.75" y="342.97" width="1.10" height="3.40" fill="#15a2b9"/>
<rect x="1228.25" y="342.97" width="3.40" height="3.40" fill="#15a2b9"/>
<rect x="1235.05" y="342.97" width="3.40" height="3.40" fill="#15a2b9"/>
<rect x="1241.85" y="342.97" width="3.00" height="3.40" fill="#15a2b9"/>
<rect x="1224.85" y="346.37" width="3.40" height="3.40" fill="#15a2b9"/>
<rect x="1231.65" y="346.37" width="3.40" height="3.40" fill="#15a2b9"/>
<rect x="1238.45" y="346.37" width="3.40" height="3.40" fill="#15a2b9"/>
<rect x="1223.75" y="349.77" width="1.10" height="3.40" fill="#15a2b9"/>
<rect x="1228.25" y="349.77" width="3.40" height="3.40" fill="#15a2b9"/>
<rect x="1235.05" y="349.77" width="3.40" height="3.40" fill="#15a2b9"/>
<rect x="1241.85" y="349.77" width="3.00" height="3.40" fill="#15a2b9"/>
<rect x="1224.85" y="353.17" width="3.40" height="3.40" fill="#15a2b9"/>
<rect x="1231.65" y="353.17" width="3.40" height="3.40" fill="#15a2b9"/>
<rect x="1238.45" y="353.17" width="3.40" height="3.40" fill="#15a2b9"/>
<rect x="1223.75" y="356.57" width="1.10" height="3.40" fill="#15a2b9"/>
<rect x="1228.25" y="356.57" width="3.40" height="3.40" fill="#15a2b9"/>
<rect x="1235.05" y="356.57" width="3.40" height="3.40" fill="#15a2b9"/>
<rect x="1241.85" y="356.57" width="3.00" height="3.40" fill="#15a2b9"/>
<rect x="1224.85" y="359.97" width="3.40" height="3.40" fill="#15a2b9"/>
<rect x="1231.65" y="359.97" width="3.40" height="3.40" fill="#15a2b9"/>
<rect x="1238.45" y="359.97" width="3.40" height="3.40" fill="#15a2b9"/>
<rect x="1223.75" y="363.37" width="1.10" height="3.40" fill="#15a2b9"/>
<rect x="1228.25" y="363.37" width="3.40" height="3.40" fill="#15a2b9"/>
<rect x="1235.05" y="363.37" width="3.40" height="3.40" fill="#15a2b9"/>
<rect x="1241.85" y="363.37" width="3.00" height="3.40" fill="#15a2b9"/>
<rect x="1224.85" y="366.77" width="3.40" height="3.40" fill="#15a2b9"/>
<rect x="1231.65" y="366.77" width="3.40" height="3.40" fill="#15a2b9"/>
<rect x="1238.45" y="366.77" width="3.40" height="3.40" fill="#15a2b9"/>
<rect x="1223.75" y="370.17" width="1.10" height="3.40" fill="#15a2b9"/>
<rect x="1228.25" y="370.17" width="3.40" height="3.40" fill="#15a2b9"/>
<rect x="1235.05" y="370.17" width="3.40" height="3.40" fill="#15a2b9"/>
<rect x="1241.85" y="370.17" width="3.00" height="3.40" fill="#15a2b9"/>
<rect x="1224.85" y="373.57" width="3.40" height="3.40" fill="#15a2b9"/>
<rect x="1231.65" y="373.57" width="3.40" height="3.40" fill="#15a2b9"/>
<rect x="1238.45" y="373.57" width="3.40" height="3.40" fill="#15a2b9"/>
<rect x="1223.75" y="376.97" width="1.10" height="3.40" fill="#15a2b9"/>
<rect x="1228.25" y="376.97" width="3.40" height="3.40" fill="#15a2b9"/>
<rect x="1235.05" y="376.97" width="3.40" height="3.40" fill="#15a2b9"/>
<rect x="1241.85" y="376.97" width="3.00" height="3.40" fill="#15a2b9"/>
<rect x="1224.85" y="380.37" width="3.40" height="3.40" fill="#15a2b9"/>
<rect x="1231.65" y="380.37" width="3.40" height="3.40" fill="#15a2b9"/>
<rect x="1238.45" y="380.37" width="3.40" height="3.40" fill="#15a2b9"/>
<rect x="1223.75" y="383.77" width="1.10" height="3.40" fill="#15a2b9"/>
<rect x="1228.25" y="383.77" width="3.40" height="3.40" fill="#15a2b9"/>
<rect x="1235.05" y="383.77" width="3.40" height="3.40" fill="#15a2b9"/>
<rect x="1241.85" y="383.77" width="3.00" height="3.40" fill="#15a2b9"/>
<rect x="1224.85" y="387.17" width="3.40" height="3.40" fill="#15a2b9"/>
<rect x="1231.65" y="387.17" width="3.40" height="3.40" fill="#15a2b9"/>
<rect x="1238.45" y="387.17" width="3.40" height="3.40" fill="#15a2b9"/>
<rect x="1223.75" y="390.57" width="1.10" height="3.40" fill="#15a2b9"/>
<rect x="1228.25" y="390.57" width="3.40" height="3.40" fill="#15a2b9"/>
<rect x="1235.05" y="390.57" width="3.40" height="3.40" fill="#15a2b9"/>
<rect x="1241.85" y="390.57" width="3.00" height="3.40" fill="#15a2b9"/>
<rect x="1224.85" y="393.97" width="3.40" height="3.40" fill="#15a2b9"/>
<rect x="1231.65" y="393.97" width="3.40" height="3.40" fill="#15a2b9"/>
<rect x="1238.45" y="393.97" width="3.40" height="3.40" fill="#15a2b9"/>
<rect x="1223.75" y="397.37" width="1.10" height="3.40" fill="#15a2b9"/>
<rect x="1228.25" y="397.37" width="3.40" height="3.40" fill="#15a2b9"/>
<rect x="1235.05" y="397.37" width="3.40" height="3.40" fill="#15a2b9"/>
<rect x="1241.85" y="397.37" width="3.00" height="3.40" fill="#15a2b9"/>
<rect x="1224.85" y="400.77" width="3.40" height="3.40" fill="#15a2b9"/>
<rect x="1231.65" y="400.77" width="3.40" height="3.40" fill="#15a2b9"/>
<rect x="1238.45" y="400.77" width="3.40" height="3.40" fill="#15a2b9"/>
<rect x="1223.75" y="404.17" width="1.10" height="3.40" fill="#15a2b9"/>
<rect x="1228.25" y="404.17" width="3.40" height="3.40" fill="#15a2b9"/>
<rect x="1235.05" y="404.17" width="3.40" height="3.40" fill="#15a2b9"/>
<rect x="1241.85" y="404.17" width="3.00" height="3.40" fill="#15a2b9"/>
<rect x="1224.85" y="407.57" width="3.40" height="3.40" fill="#15a2b9"/>
<rect x="1231.65" y="407.57" width="3.40" height="3.40" fill="#15a2b9"/>
<rect x="1238.45" y="407.57" width="3.40" height="3.40" fill="#15a2b9"/>
<rect x="1223.75" y="410.97" width="1.10" height="3.40" fill="#15a2b9"/>
<rect x="1228.25" y="410.97" width="3.40" height="3.40" fill="#15a2b9"/>
<rect x="1235.05" y="410.97" width="3.40" height="3.40" fill="#15a2b9"/>
<rect x="1241.85" y="410.97" width="3.00" height="3.40" fill="#15a2b9"/>
<rect x="1224.85" y="414.37" width="3.40" height="3.40" fill="#15a2b9"/>
<rect x="1231.65" y="414.37" width="3.40" height="3.40" fill="#15a2b9"/>
<rect x="1238.45" y="414.37" width="3.40" height="3.40" fill="#15a2b9"/>
<rect x="1223.75" y="417.77" width="1.10" height="3.40" fill="#15a2b9"/>
<rect x="1228.25" y="417.77" width="3.40" height="3.40" fill="#15a2b9"/>
<rect x="1235.05" y="417.77" width="3.40" height="3.40" fill="#15a2b9"/>
<rect x="1241.85" y="417.77" width="3.00" height="3.40" fill="#15a2b9"/>
<rect x="1224.85" y="421.17" width="3.40" height="2.43" fill="#15a2b9"/>
<rect x="1231.65" y="421.17" width="3.40" height="2.43" fill="#15a2b9"/>
<rect x="1238.45" y="421.17" width="3.40" height="2.43" fill="#15a2b9"/>
<rect x="1266.55" y="268.27" width="31.50" height="155.33" fill="#800080"/>
<rect x="1275.65" y="273.27" width="6.80" height="3.60" fill="#cc00cc"/>
<rect x="1289.25" y="273.27" width="3.80" height="3.60" fill="#cc00cc"/>
<rect x="1271.55" y="276.87" width="4.10" height="6.80" fill="#cc00cc"/>
<rect x="1282.45" y="276.87" width="6.80" height="6.80" fill="#cc00cc"/>
<rect x="1275.65" y="283.67" width="6.80" height="6.80" fill="#cc00cc"/>
<rect x="1289.25" y="283.67" width="3.80" height="6.80" fill="#cc00cc"/>
<rect x="1271.55" y="290.47" width="4.10" height="6.80" fill="#cc00cc"/>
<rect x="1282.45" y="290.47" width="6.80" height="6.80" fill="#cc00cc"/>
<rect x="1275.65" y="297.27" width="6.80" height="6.80" fill="#cc00cc"/>
<rect x="1289.25" y="297.27" width="3.80" height="6.80" fill="#cc00cc"/>
<rect x="1271.55" y="304.07" width="4.10" height="6.80" fill="#cc00cc"/>
<rect x="1282.45" y="304.07" width="6.80" height="6.80" fill="#cc00cc"/>
<rect x="1275.65" y="310.87" width="6.80" height="6.80" fill="#cc00cc"/>
<rect x="1289.25" y="310.87" width="3.80" height="6.80" fill="#cc00cc"/>
<rect x="1271.55" y="317.67" width="4.10" height="6.80" fill="#cc00cc"/>
<rect x="1282.45" y="317.67" width="6.80" height="6.80" fill="#cc00cc"/>
<rect x="1275.65" y="324.47" width="6.80" height="6.80" fill="#cc00cc"/>
<rect x="1289.25" y="324.47" width="3.80" height="6.80" fill="#cc00cc"/>
<rect x="1271.55" y="331.27" width="4.10" height="6.80" fill="#cc00cc"/>
<rect x="1282.45" y="331.27" width="6.80" height="6.80" fill="#cc00cc"/>
<rect x="1275.65" y="338.07" width="6.80" height="6.80" fill="#cc00cc"/>
<rect x="1289.25" y="338.07" width="3.80" height="6.80" fill="#cc00cc"/>
<rect x="1271.55" y="344.87" width="4.10" height="6.80" fill="#cc00cc"/>
<rect x="1282.45" y="344.87" width="6.80" height="6.80" fill="#cc00cc"/>
<rect x="1275.65" y="351.67" width="6.80" height="6.80" fill="#cc00cc"/>
<rect x="1289.25" y="351.67" width="3.80" height="6.80" fill="#cc00cc"/>
<rect x="1271.55" y="358.47" width="4.10" height="6.80" fill="#cc00cc"/>
<rect x="1282.45" y="358.47" width="6.80" height="6.80" fill="#cc00cc"/>
<rect x="1275.65" y="365.27" width="6.80" height="6.80" fill="#cc00cc"/>
<rect x="1289.25" y="365.27" width="3.80" height="6.80" fill="#cc00cc"/>
<rect x="1271.55" y="372.07" width="4.10" height="6.80" fill="#cc00cc"/>
<rect x="1282.45" y="372.07" width="6.80" height="6.80" fill="#cc00cc"/>
<rect x="1275.65" y="378.87" width="6.80" height="6.80" fill="#cc00cc"/>
<rect x="1289.25" y="378.87" width="3.80" height="6.80" fill="#cc00cc"/>
<rect x="1271.55" y="385.67" width="4.10" height="6.80" fill="#cc00cc"/>
<rect x="1282.45" y="385.67" width="6.80" height="6.80" fill="#cc00cc"/>
<rect x="1275.65" y="392.47" width="6.80" height="6.80" fill="#cc00cc"/>
<rect x="1289.25" y="392.47" width="3.80" height="6.80" fill="#cc00cc"/>
<rect x="1271.55" y="399.27" width="4.10" height="6.80" fill="#cc00cc"/>
<rect x="1282.45" y="399.27" width="6.80" height="6.80" fill="#cc00cc"/>
<rect x="1275.65" y="406.07" width="6.80" height="6.80" fill="#cc00cc"/>
<rect x="1289.25" y="406.07" width="3.80" height="6.80" fill="#cc00cc"/>
<rect x="1271.55" y="412.87" width="4.10" height="6.80" fill="#cc00cc"/>
<rect x="1282.45" y="412.87" width="6.80" height="6.80" fill="#cc00cc"/>
<rect x="1275.65" y="419.67" width="6.80" height="3.93" fill="#cc00cc"/>
<rect x="1289.25" y="419.67" width="3.80" height="3.93" fill="#cc00cc"/>
<rect x="1314.05" y="326.63" width="31.50" height="96.97" fill="#000080"/>
<rect x="1319.05" y="337.63" width="21.50" height="1.60" fill="#0000c8"/>
<rect x="1319.05" y="347.73" width="21.50" height="1.60" fill="#0000c8"/>
<rect x="1319.05" y="357.83" width="21.50" height="1.60" fill="#0000c8"/>
<rect x="1319.05" y="367.93" width="21.50" height="1.60" fill="#0000c8"/>
<rect x="1319.05" y="378.03" width="21.50" height="1.60" fill="#0000c8"/>
<rect x="1319.05" y="388.13" width="21.50" height="1.60" fill="#0000c8"/>
<rect x="1319.05" y="398.23" width="21.50" height="1.60" fill="#0000c8"/>
<rect x="1319.05" y="408.33" width="21.50" height="1.60" fill="#0000c8"/>
<rect x="1319.05" y="418.43" width="21.50" height="1.60" fill="#0000c8"/>
<rect x="1392.90" y="200.67" width="31.50" height="222.93" fill="#0a7e93"/>
<rect x="1398.10" y="205.87" width="21.10" height="217.73" fill="#0b7f96"/>
<rect x="1399.20" y="205.87" width="3.40" height="1.10" fill="#15a2b9"/>
<rect x="1406.00" y="205.87" width="3.40" height="1.10" fill="#15a2b9"/>
<rect x="1412.80" y="205.87" width="3.40" height="1.10" fill="#15a2b9"/>
<rect x="1398.10" y="206.97" width="1.10" height="3.40" fill="#15a2b9"/>
<rect x="1402.60" y="206.97" width="3.40" height="3.40" fill="#15a2b9"/>
<rect x="1409.40" y="206.97" width="3.40" height="3.40" fill="#15a2b9"/>
<rect x="1416.20" y="206.97" width="3.00" height="3.40" fill="#15a2b9"/>
<rect x="1399.20" y="210.37" width="3.40" height="3.40" fill="#15a2b9"/>
<rect x="1406.00" y="210.37" width="3.40" height="3.40" fill="#15a2b9"/>
<rect x="1412.80" y="210.37" width="3.40" height="3.40" fill="#15a2b9"/>
<rect x="1398.10" y="213.77" width="1.10" height="3.40" fill="#15a2b9"/>
<rect x="1402.60" y="213.77" width="3.40" height="3.40" fill="#15a2b9"/>
<rect x="1409.40" y="213.77" width="3.40" height="3.40" fill="#15a2b9"/>
<rect x="1416.20" y="213.77" width="3.00" height="3.40" fill="#15a2b9"/>
<rect x="1399.20" y="217.17" width="3.40" height="3.40" fill="#15a2b9"/>
<rect x="1406.00" y="217.17" width="3.40" height="3.40" fill="#15a2b9"/>
<rect x="1412.80" y="217.17" width="3.40" height="3.40" fill="#15a2b9"/>
<rect x="1398.10" y="220.57" width="1.10" height="3.40" fill="#15a2b9"/>
<rect x="1402.60" y="220.57" width="3.40" height="3.40" fill="#15a2b9"/>
<rect x="1409.40" y="220.57" width="3.40" height="3.40" fill="#15a2b9"/>
<rect x="1416.20" y="220.57" width="3.00" height="3.40" fill="#15a2b9"/>
<rect x="1399.20" y="223.97" width="3.40" height="3.40" fill="#15a2b9"/>
<rect x="1406.00" y="223.97" width="3.40" height="3.40" fill="#15a2b9"/>
<rect x="1412.80" y="223.97" width="3.40" height="3.40" fill="#15a2b9"/>
<rect x="1398.10" y="227.37" width="1.10" height="3.40" fill="#15a2b9"/>
<rect x="1402.60" y="227.37" width="3.40" height="3.40" fill="#15a2b9"/>
<rect x="1409.40" y="227.37" width="3.40" height="3.40" fill="#15a2b9"/>
<rect x="1416.20" y="227.37" width="3.00" height="3.40" fill="#15a2b9"/>
<rect x="1399.20" y="230.77" width="3.40" height="3.40" fill="#15a2b9"/>
<rect x="1406.00" y="230.77" width="3.40" height="3.40" fill="#15a2b9"/>
<rect x="1412.80" y="230.77" width="3.40" height="3.40" fill="#15a2b9"/>
<rect x="1398.10" y="234.17" width="1.10" height="3.40" fill="#15a2b9"/>
<rect x="1402.60" y="234.17" width="3.40" height="3.40" fill="#15a2b9"/>
<rect x="1409.40" y="234.17" width="3.40" height="3.40" fill="#15a2b9"/>
<rect x="1416.20" y="234.17" width="3.00" height="3.40" fill="#15a2b9"/>
<rect x="1399.20" y="237.57" width="3.40" height="3.40" fill="#15a2b9"/>
<rect x="1406.00" y="237.57" width="3.40" height="3.40" fill="#15a2b9"/>
<rect x="1412.80" y="237.57" width="3.40" height="3.40" fill="#15a2b9"/>
<rect x="1398.10" y="240.97" width="1.10" height="3.40" fill="#15a2b9"/>
<rect x="1402.60" y="240.97" width="3.40" height="3.40" fill="#15a2b9"/>
<rect x="1409.40" y="240.97" width="3.40" height="3.40" fill="#15a2b9"/>
<rect x="1416.20" y="240.97" width="3.00" height="3.40" fill="#15a2b9"/>
<rect x="1399.20" y="244.37" width="3.40" height="3.40" fill="#15a2b9"/>
<rect x="1406.00" y="244.37" width="3.40" height="3.40" fill="#15a2b9"/>
<rect x="1412.80" y="244.37" width="3.40" height="3.40" fill="#15a2b9"/>
<rect x="1398.10" y="247.77" width="1.10" height="3.40" fill="#15a2b9"/>
<rect x="1402.60" y="247.77" width="3.40" height="3.40" fill="#15a2b9"/>
<rect x="1409.40" y="247.77" width="3.40" height="3.40" fill="#15a2b9"/>
<rect x="1416.20" y="247.77" width="3.00" height="3.40" fill="#15a2b9"/>
<rect x="1399.20" y="251.17" width="3.40" height="3.40" fill="#15a2b9"/>
<rect x="1406.00" y="251.17" width="3.40" height="3.40" fill="#15a2b9"/>
<rect x="1412.80" y="251.17" width="3.40" height="3.40" fill="#15a2b9"/>
<rect x="1398.10" y="254.57" width="1.10" height="3.40" fill="#15a2b9"/>
<rect x="1402.60" y="254.57" width="3.40" height="3.40" fill="#15a2b9"/>
<rect x="1409.40" y="254.57" width="3.40" height="3.40" fill="#15a2b9"/>
<rect x="1416.20" y="254.57" width="3.00" height="3.40" fill="#15a2b9"/>
<rect x="1399.20" y="257.97" width="3.40" height="3.40" fill="#15a2b9"/>
<rect x="1406.00" y="257.97" width="3.40" height="3.40" fill="#15a2b9"/>
<rect x="1412.80" y="257.97" width="3.40" height="3.40" fill="#15a2b9"/>
<rect x="1398.10" y="261.37" width="1.10" height="3.40" fill="#15a2b9"/>
<rect x="1402.60" y="261.37" width="3.40" height="3.40" fill="#15a2b9"/>
<rect x="1409.40" y="261.37" width="3.40" height="3.40" fill="#15a2b9"/>
<rect x="1416.20" y="261.37" width="3.00" height="3.40" fill="#15a2b9"/>
<rect x="1399.20" y="264.77" width="3.40" height="3.40" fill="#15a2b9"/>
<rect x="1406.00" y="264.77" width="3.40" height="3.40" fill="#15a2b9"/>
<rect x="1412.80" y="264.77" width="3.40" height="3.40" fill="#15a2b9"/>
<rect x="1398.10" y="268.17" width="1.10" height="3.40" fill="#15a2b9"/>
<rect x="1402.60" y="268.17" width="3.40" height="3.40" fill="#15a2b9"/>
<rect x="1409.40" y="268.17" width="3.40" height="3.40" fill="#15a2b9"/>
<rect x="1416.20" y="268.17" width="3.00" height="3.40" fill="#15a2b9"/>
<rect x="1399.20" y="271.57" width="3.40" height="3.40" fill="#15a2b9"/>
<rect x="1406.00" y="271.57" width="3.40" height="3.40" fill="#15a2b9"/>
<rect x="1412.80" y="271.57" width="3.40" height="3.40" fill="#15a2b9"/>
<rect x="1398.10" y="274.97" width="1.10" height="3.40" fill="#15a2b9"/>
<rect x="1402.60" y="274.97" width="3.40" height="3.40" fill="#15a2b9"/>
<rect x="1409.40" y="274.97" width="3.40" height="3.40" fill="#15a2b9"/>
<rect x="1416.20" y="274.97" width="3.00" height="3.40" fill="#15a2b9"/>
<rect x="1399.20" y="278.37" width="3.40" height="3.40" fill="#15a2b9"/>
<rect x="1406.00" y="278.37" width="3.40" height="3.40" fill="#15a2b9"/>
<rect x="1412.80" y="278.37" width="3.40" height="3.40" fill="#15a2b9"/>
<rect x="1398.10" y="281.77" width="1.10" height="3.40" fill="#15a2b9"/>
<rect x="1402.60" y="281.77" width="3.40" height="3.40" fill="#15a2b9"/>
<rect x="1409.40" y="281.77" width="3.40" height="3.40" fill="#15a2b9"/>
<rect x="1416.20" y="281.77" width="3.00" height="3.40" fill="#15a2b9"/>
<rect x="1399.20" y="285.17" width="3.40" height="3.40" fill="#15a2b9"/>
<rect x="1406.00" y="285.17" width="3.40" height="3.40" fill="#15a2b9"/>
<rect x="1412.80" y="285.17" width="3.40" height="3.40" fill="#15a2b9"/>
<rect x="1398.10" y="288.57" width="1.10" height="3.40" fill="#15a2b9"/>
<rect x="1402.60" y="288.57" width="3.40" height="3.40" fill="#15a2b9"/>
<rect x="1409.40" y="288.57" width="3.40" height="3.40" fill="#15a2b9"/>
<rect x="1416.20" y="288.57" width="3.00" height="3.40" fill="#15a2b9"/>
<rect x="1399.20" y="291.97" width="3.40" height="3.40" fill="#15a2b9"/>
<rect x="1406.00" y="291.97" width="3.40" height="3.40" fill="#15a2b9"/>
<rect x="1412.80" y="291.97" width="3.40" height="3.40" fill="#15a2b9"/>
<rect x="1398.10" y="295.37" width="1.10" height="3.40" fill="#15a2b9"/>
<rect x="1402.60" y="295.37" width="3.40" height="3.40" fill="#15a2b9"/>
<rect x="1409.40" y="295.37" width="3.40" height="3.40" fill="#15a2b9"/>
<rect x="1416.20" y="295.37" width="3.00" height="3.40" fill="#15a2b9"/>
<rect x="1399.20" y="298.77" width="3.40" height="3.40" fill="#15a2b9"/>
<rect x="1406.00" y="298.77" width="3.40" height="3.40" fill="#15a2b9"/>
<rect x="1412.80" y="298.77" width="3.40" height="3.40" fill="#15a2b9"/>
<rect x="1398.10" y="302.17" width="1.10" height="3.40" fill="#15a2b9"/>
<rect x="1402.60" y="302.17" width="3.40" height="3.40" fill="#15a2b9"/>
<rect x="1409.40" y="302.17" width="3.40" height="3.40" fill="#15a2b9"/>
<rect x="1416.20" y="302.17" width="3.00" height="3.40" fill="#15a2b9"/>
<rect x="1399.20" y="305.57" width="3.40" height="3.40" fill="#15a2b9"/>
<rect x="1406.00" y="305.57" width="3.40" height="3.40" fill="#15a2b9"/>
<rect x="1412.80" y="305.57" width="3.40" height="3.40" fill="#15a2b9"/>
<rect x="1398.10" y="308.97" width="1.10" height="3.40" fill="#15a2b9"/>
<rect x="1402.60" y="308.97" width="3.40" height="3.40" fill="#15a2b9"/>
<rect x="1409.40" y="308.97" width="3.40" height="3.40" fill="#15a2b9"/>
<rect x="1416.20" y="308.97" width="3.00" height="3.40" fill="#15a2b9"/>
<rect x="1399.20" y="312.37" width="3.40" height="3.40" fill="#15a2b9"/>
<rect x="1406.00" y="312.37" width="3.40" height="3.40" fill="#15a2b9"/>
<rect x="1412.80" y="312.37" width="3.40" height="3.40" fill="#15a2b9"/>
<rect x="1398.10" y="315.77" width="1.10" height="3.40" fill="#15a2b9"/>
<rect x="1402.60" y="315.77" width="3.40" height="3.40" fill="#15a2b9"/>
<rect x="1409.40" y="315.77" width="3.40" height="3.40" fill="#15a2b9"/>
<rect x="1416.20" y="315.77" width="3.00" height="3.40" fill="#15a2b9"/>
<rect x="1399.20" y="319.17" width="3.40" height="3.40" fill="#15a2b9"/>
<rect x="1406.00" y="319.17" width="3.40" height="3.40" fill="#15a2b9"/>
<rect x="1412.80" y="319.17" width="3.40" height="3.40" fill="#15a2b9"/>
<rect x="1398.10" y="322.57" width="1.10" height="3.40" fill="#15a2b9"/>
<rect x="1402.60" y="322.57" width="3.40" height="3.40" fill="#15a2b9"/>
<rect x="1409.40" y="322.57" width="3.40" height="3.40" fill="#15a2b9"/>
<rect x="1416.20" y="322.57" width="3.00" height="3.40" fill="#15a2b9"/>
<rect x="1399.20" y="325.97" width="3.40" height="3.40" fill="#15a2b9"/>
<rect x="1406.00" y="325.97" width="3.40" height="3.40" fill="#15a2b9"/>
<rect x="1412.80" y="325.97" width="3.40" height="3.40" fill="#15a2b9"/>
<rect x="1398.10" y="329.37" width="1.10" height="3.40" fill="#15a2b9"/>
<rect x="1402.60" y="329.37" width="3.40" height="3.40" fill="#15a2b9"/>
<rect x="1409.40" y="329.37" width="3.40" height="3.40" fill="#15a2b9"/>
<rect x="1416.20" y="329.37" width="3.00" height="3.40" fill="#15a2b9"/>
<rect x="1399.20" y="332.77" width="3.40" height="3.40" fill="#15a2b9"/>
<rect x="1406.00" y="332.77" width="3.40" height="3.40" fill="#15a2b9"/>
<rect x="1412.80" y="332.77" width="3.40" height="3.40" fill="#15a2b9"/>
<rect x="1398.10" y="336.17" width="1.10" height="3.40" fill="#15a2b9"/>
<rect x="1402.60" y="336.17" width="3.40" height="3.40" fill="#15a2b9"/>
<rect x="1409.40" y="336.17" width="3.40" height="3.40" fill="#15a2b9"/>
<rect x="1416.20" y="336.17" width="3.00" height="3.40" fill="#15a2b9"/>
<rect x="1399.20" y="339.57" width="3.40" height="3.40" fill="#15a2b9"/>
<rect x="1406.00" y="339.57" width="3.40" height="3.40" fill="#15a2b9"/>
<rect x="1412.80" y="339.57" width="3.40" height="3.40" fill="#15a2b9"/>
<rect x="1398.10" y="342.97" width="1.10" height="3.40" fill="#15a2b9"/>
<rect x="1402.60" y="342.97" width="3.40" height="3.40" fill="#15a2b9"/>
<rect x="1409.40" y="342.97" width="3.40" height="3.40" fill="#15a2b9"/>
<rect x="1416.20" y="342.97" width="3.00" height="3.40" fill="#15a2b9"/>
<rect x="1399.20" y="346.37" width="3.40" height="3.40" fill="#15a2b9"/>
<rect x="1406.00" y="346.37" width="3.40" height="3.40" fill="#15a2b9"/>
<rect x="1412.80" y="346.37" width="3.40" height="3.40" fill="#15a2b9"/>
<rect x="1398.10" y="349.77" width="1.10" height="3.40" fill="#15a2b9"/>
<rect x="1402.60" y="349.77" width="3.40" height="3.40" fill="#15a2b9"/>
<rect x="1409.40" y="349.77" width="3.40" height="3.40" fill="#15a2b9"/>
<rect x="1416.20" y="349.77" width="3.00" height="3.40" fill="#15a2b9"/>
<rect x="1399.20" y="353.17" width="3.40" height="3.40" fill="#15a2b9"/>
<rect x="1406.00" y="353.17" width="3.40" height="3.40" fill="#15a2b9"/>
<rect x="1412.80" y="353.17" width="3.40" height="3.40" fill="#15a2b9"/>
<rect x="1398.10" y="356.57" width="1.10" height="3.40" fill="#15a2b9"/>
<rect x="1402.60" y="356.57" width="3.40" height="3.40" fill="#15a2b9"/>
<rect x="1409.40" y="356.57" width="3.40" height="3.40" fill="#15a2b9"/>
<rect x="1416.20" y="356.57" width="3.00" height="3.40" fill="#15a2b9"/>
<rect x="1399.20" y="359.97" width="3.40" height="3.40" fill="#15a2b9"/>
<rect x="1406.00" y="359.97" width="3.40" height="3.40" fill="#15a2b9"/>
<rect x="1412.80" y="359.97" width="3.40" height="3.40" fill="#15a2b9"/>
<rect x="1398.10" y="363.37" width="1.10" height="3.40" fill="#15a2b9"/>
<rect x="1402.60" y="363.37" width="3.40" height="3.40" fill="#15a2b9"/>
<rect x="1409.40" y="363.37" width="3.40" height="3.40" fill="#15a2b9"/>
<rect x="1416.20" y="363.37" width="3.00" height="3.40" fill="#15a2b9"/>
<rect x="1399.20" y="366.77" width="3.40" height="3.40" fill="#15a2b9"/>
<rect x="1406.00" y="366.77" width="3.40" height="3.40" fill="#15a2b9"/>
<rect x="1412.80" y="366.77" width="3.40" height="3.40" fill="#15a2b9"/>
<rect x="1398.10" y="370.17" width="1.10" height="3.40" fill="#15a2b9"/>
<rect x="1402.60" y="370.17" width="3.40" height="3.40" fill="#15a2b9"/>
<rect x="1409.40" y="370.17" width="3.40" height="3.40" fill="#15a2b9"/>
<rect x="1416.20" y="370.17" width="3.00" height="3.40" fill="#15a2b9"/>
<rect x="1399.20" y="373.57" width="3.40" height="3.40" fill="#15a2b9"/>
<rect x="1406.00" y="373.57" width="3.40" height="3.40" fill="#15a2b9"/>
<rect x="1412.80" y="373.57" width="3.40" height="3.40" fill="#15a2b9"/>
<rect x="1398.10" y="376.97" width="1.10" height="3.40" fill="#15a2b9"/>
<rect x="1402.60" y="376.97" width="3.40" height="3.40" fill="#15a2b9"/>
<rect x="1409.40" y="376.97" width="3.40" height="3.40" fill="#15a2b9"/>
<rect x="1416.20" y="376.97" width="3.00" height="3.40" fill="#15a2b9"/>
<rect x="1399.20" y="380.37" width="3.40" height="3.40" fill="#15a2b9"/>
<rect x="1406.00" y="380.37" width="3.40" height="3.40" fill="#15a2b9"/>
<rect x="1412.80" y="380.37" width="3.40" height="3.40" fill="#15a2b9"/>
<rect x="1398.10" y="383.77" width="1.10" height="3.40" fill="#15a2b9"/>
<rect x="1402.60" y="383.77" width="3.40" height="3.40" fill="#15a2b9"/>
<rect x="1409.40" y="383.77" width="3.40" height="3.40" fill="#15a2b9"/>
<rect x="1416.20" y="383.77" width="3.00" height="3.40" fill="#15a2b9"/>
<rect x="1399.20" y="387.17" width="3.40" height="3.40" fill="#15a2b9"/>
<rect x="1406.00" y="387.17" width="3.40" height="3.40" fill="#15a2b9"/>
<rect x="1412.80" y="387.17" width="3.40" height="3.40" fill="#15a2b9"/>
<rect x="1398.10" y="390.57" width="1.10" height="3.40" fill="#15a2b9"/>
<rect x="1402.60" y="390.57" width="3.40" height="3.40" fill="#15a2b9"/>
<rect x="1409.40" y="390.57" width="3.40" height="3.40" fill="#15a2b9"/>
<rect x="1416.20" y="390.57" width="3.00" height="3.40" fill="#15a2b9"/>
<rect x="1399.20" y="393.97" width="3.40" height="3.40" fill="#15a2b9"/>
<rect x="1406.00" y="393.97" width="3.40" height="3.40" fill="#15a2b9"/>
<rect x="1412.80" y="393.97" width="3.40" height="3.40" fill="#15a2b9"/>
<rect x="1398.10" y="397.37" width="1.10" height="3.40" fill="#15a2b9"/>
<rect x="1402.60" y="397.37" width="3.40" height="3.40" fill="#15a2b9"/>
<rect x="1409.40" y="397.37" width="3.40" height="3.40" fill="#15a2b9"/>
<rect x="1416.20" y="397.37" width="3.00" height="3.40" fill="#15a2b9"/>
<rect x="1399.20" y="400.77" width="3.40" height="3.40" fill="#15a2b9"/>
<rect x="1406.00" y="400.77" width="3.40" height="3.40" fill="#15a2b9"/>
<rect x="1412.80" y="400.77" width="3.40" height="3.40" fill="#15a2b9"/>
<rect x="1398.10" y="404.17" width="1.10" height="3.40" fill="#15a2b9"/>
<rect x="1402.60" y="404.17" width="3.40" height="3.40" fill="#15a2b9"/>
<rect x="1409.40" y="404.17" width="3.40" height="3.40" fill="#15a2b9"/>
<rect x="1416.20" y="404.17" width="3.00" height="3.40" fill="#15a2b9"/>
<rect x="1399.20" y="407.57" width="3.40" height="3.40" fill="#15a2b9"/>
<rect x="1406.00" y="407.57" width="3.40" height="3.40" fill="#15a2b9"/>
<rect x="1412.80" y="407.57" width="3.40" height="3.40" fill="#15a2b9"/>
<rect x="1398.10" y="410.97" width="1.10" height="3.40" fill="#15a2b9"/>
<rect x="1402.60" y="410.97" width="3.40" height="3.40" fill="#15a2b9"/>
<rect x="1409.40" y="410.97" width="3.40" height="3.40" fill="#15a2b9"/>
<rect x="1416.20" y="410.97" width="3.00" height="3.40" fill="#15a2b9"/>
<rect x="1399.20" y="414.37" width="3.40" height="3.40" fill="#15a2b9"/>
<rect x="1406.00" y="414.37" width="3.40" height="3.40" fill="#15a2b9"/>
<rect x="1412.80" y="414.37" width="3.40" height="3.40" fill="#15a2b9"/>
<rect x="1398.10" y="417.77" width="1.10" height="3.40" fill="#15a2b9"/>
<rect x="1402.60" y="417.77" width="3.40" height="3.40" fill="#15a2b9"/>
<rect x="1409.40" y="417.77" width="3.40" height="3.40" fill="#15a2b9"/>
<rect x="1416.20" y="417.77" width="3.00" height="3.40" fill="#15a2b9"/>
<rect x="1399.20" y="421.17" width="3.40" height="2.43" fill="#15a2b9"/>
<rect x="1406.00" y="421.17" width="3.40" height="2.43" fill="#15a2b9"/>
<rect x="1412.80" y="421.17" width="3.40" height="2.43" fill="#15a2b9"/>
<rect x="1440.90" y="349.84" width="31.50" height="73.76" fill="#800080"/>
<rect x="1450.00" y="354.84" width="6.80" height="3.60" fill="#cc00cc"/>
<rect x="1463.60" y="354.84" width="3.80" height="3.60" fill="#cc00cc"/>
<rect x="1445.90" y="358.44" width="4.10" height="6.80" fill="#cc00cc"/>
<rect x="1456.80" y="358.44" width="6.80" height="6.80" fill="#cc00cc"/>
<rect x="1450.00" y="365.24" width="6.80" height="6.80" fill="#cc00cc"/>
<rect x="1463.60" y="365.24" width="3.80" height="6.80" fill="#cc00cc"/>
<rect x="1445.90" y="372.04" width="4.10" height="6.80" fill="#cc00cc"/>
<rect x="1456.80" y="372.04" width="6.80" height="6.80" fill="#cc00cc"/>
<rect x="1450.00" y="378.84" width="6.80" height="6.80" fill="#cc00cc"/>
<rect x="1463.60" y="378.84" width="3.80" height="6.80" fill="#cc00cc"/>
<rect x="1445.90" y="385.64" width="4.10" height="6.80" fill="#cc00cc"/>
<rect x="1456.80" y="385.64" width="6.80" height="6.80" fill="#cc00cc"/>
<rect x="1450.00" y="392.44" width="6.80" height="6.80" fill="#cc00cc"/>
<rect x="1463.60" y="392.44" width="3.80" height="6.80" fill="#cc00cc"/>
<rect x="1445.90" y="399.24" width="4.10" height="6.80" fill="#cc00cc"/>
<rect x="1456.80" y="399.24" width="6.80" height="6.80" fill="#cc00cc"/>
<rect x="1450.00" y="406.04" width="6.80" height="6.80" fill="#cc00cc"/>
<rect x="1463.60" y="406.04" width="3.80" height="6.80" fill="#cc00cc"/>
<rect x="1445.90" y="412.84" width="4.10" height="6.80" fill="#cc00cc"/>
<rect x="1456.80" y="412.84" width="6.80" height="6.80" fill="#cc00cc"/>
<rect x="1450.00" y="419.64" width="6.80" height="3.96" fill="#cc00cc"/>
<rect x="1463.60" y="419.64" width="3.80" height="3.96" fill="#cc00cc"/>
<rect x="1488.40" y="408.42" width="31.50" height="15.18" fill="#000080"/>
<rect x="1493.40" y="419.42" width="21.50" height="1.60" fill="#0000c8"/>
<rect x="1614.30" y="103.20" width="35.90" height="17.60" fill="#0a7e93"/>
<rect x="1619.70" y="108.60" width="25.10" height="7.20" fill="#0b7f96"/>
<rect x="1620.80" y="108.60" width="3.40" height="1.10" fill="#15a2b9"/>
<rect x="1627.60" y="108.60" width="3.40" height="1.10" fill="#15a2b9"/>
<rect x="1634.40" y="108.60" width="3.40" height="1.10" fill="#15a2b9"/>
<rect x="1641.20" y="108.60" width="3.40" height="1.10" fill="#15a2b9"/>
<rect x="1619.70" y="109.70" width="1.10" height="3.40" fill="#15a2b9"/>
<rect x="1624.20" y="109.70" width="3.40" height="3.40" fill="#15a2b9"/>
<rect x="1631.00" y="109.70" width="3.40" height="3.40" fill="#15a2b9"/>
<rect x="1637.80" y="109.70" width="3.40" height="3.40" fill="#15a2b9"/>
<rect x="1644.60" y="109.70" width="0.20" height="3.40" fill="#15a2b9"/>
<rect x="1620.80" y="113.10" width="3.40" height="2.70" fill="#15a2b9"/>
<rect x="1627.60" y="113.10" width="3.40" height="2.70" fill="#15a2b9"/>
<rect x="1634.40" y="113.10" width="3.40" height="2.70" fill="#15a2b9"/>
<rect x="1641.20" y="113.10" width="3.40" height="2.70" fill="#15a2b9"/>
<rect x="1614.30" y="150.50" width="35.90" height="17.60" fill="#800080"/>
<rect x="1623.40" y="155.50" width="6.80" height="3.60" fill="#cc00cc"/>
<rect x="1637.00" y="155.50" width="6.80" height="3.60" fill="#cc00cc"/>
<rect x="1619.30" y="159.10" width="4.10" height="4.00" fill="#cc00cc"/>
<rect x="1630.20" y="159.10" width="6.80" height="4.00" fill="#cc00cc"/>
<rect x="1643.80" y="159.10" width="1.40" height="4.00" fill="#cc00cc"/>
<rect x="1614.30" y="196.10" width="35.90" height="17.20" fill="#000080"/>
<rect x="1619.30" y="207.00" width="25.90" height="1.60" fill="#0000c8"/>
<text transform="translate(1670.33,121.50) scale(1.0,1.07)" font-size="27.9" fill="#000080">Control</text>
<text transform="translate(1669.38,168.80) scale(1.0,1.07)" font-size="27.6" fill="#000080">AcCF</text>
<text transform="translate(1669.37,214.70) scale(1.0,1.07)" font-size="27.6" fill="#000080">AcE</text>
</svg>
</body></html>
